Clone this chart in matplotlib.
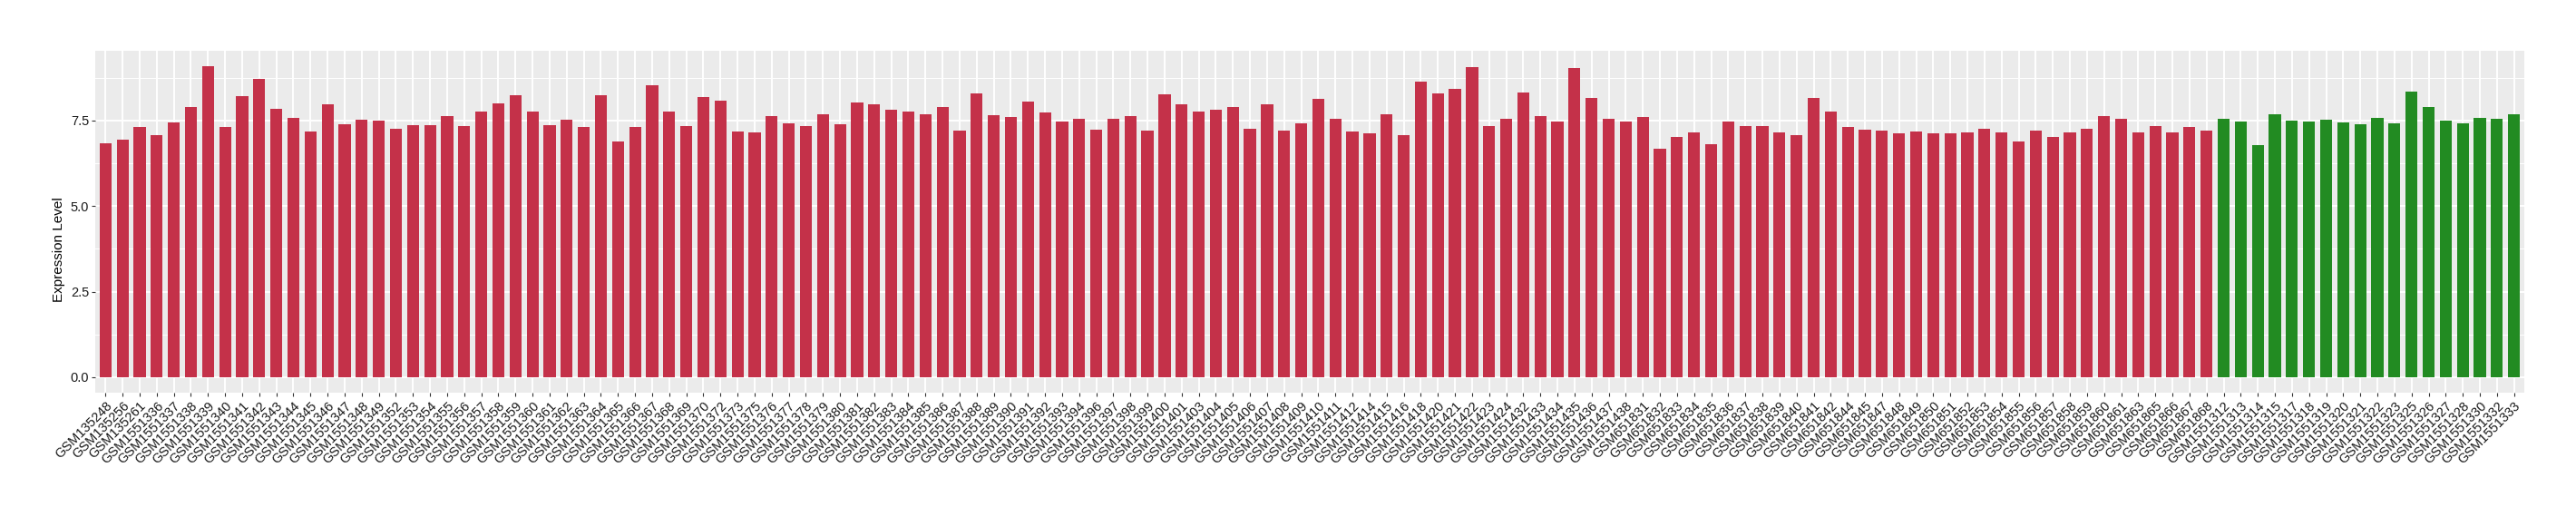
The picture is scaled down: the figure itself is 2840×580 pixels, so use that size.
import matplotlib
matplotlib.use("Agg")
import matplotlib.pyplot as plt
import numpy as np

plt.rcParams['font.family'] = ['Liberation Sans', 'DejaVu Sans']

red_samples = [
    "GSM135248", "GSM135256", "GSM135261", "GSM1551336", "GSM1551337", "GSM1551338",
    "GSM1551339", "GSM1551340", "GSM1551341", "GSM1551342", "GSM1551343", "GSM1551344",
    "GSM1551345", "GSM1551346", "GSM1551347", "GSM1551348", "GSM1551349", "GSM1551352",
    "GSM1551353", "GSM1551354", "GSM1551355", "GSM1551356", "GSM1551357", "GSM1551358",
    "GSM1551359", "GSM1551360", "GSM1551361", "GSM1551362", "GSM1551363", "GSM1551364",
    "GSM1551365", "GSM1551366", "GSM1551367", "GSM1551368", "GSM1551369", "GSM1551370",
    "GSM1551372", "GSM1551373", "GSM1551375", "GSM1551376", "GSM1551377", "GSM1551378",
    "GSM1551379", "GSM1551380", "GSM1551381", "GSM1551382", "GSM1551383", "GSM1551384",
    "GSM1551385", "GSM1551386", "GSM1551387", "GSM1551388", "GSM1551389", "GSM1551390",
    "GSM1551391", "GSM1551392", "GSM1551393", "GSM1551394", "GSM1551396", "GSM1551397",
    "GSM1551398", "GSM1551399", "GSM1551400", "GSM1551401", "GSM1551403", "GSM1551404",
    "GSM1551405", "GSM1551406", "GSM1551407", "GSM1551408", "GSM1551409", "GSM1551410",
    "GSM1551411", "GSM1551412", "GSM1551414", "GSM1551415", "GSM1551416", "GSM1551418",
    "GSM1551420", "GSM1551421", "GSM1551422", "GSM1551423", "GSM1551424", "GSM1551432",
    "GSM1551433", "GSM1551434", "GSM1551435", "GSM1551436", "GSM1551437", "GSM1551438",
    "GSM651831", "GSM651832", "GSM651833", "GSM651834", "GSM651835", "GSM651836",
    "GSM651837", "GSM651838", "GSM651839", "GSM651840", "GSM651841", "GSM651842",
    "GSM651844", "GSM651845", "GSM651847", "GSM651848", "GSM651849", "GSM651850",
    "GSM651851", "GSM651852", "GSM651853", "GSM651854", "GSM651855", "GSM651856",
    "GSM651857", "GSM651858", "GSM651859", "GSM651860", "GSM651861", "GSM651863",
    "GSM651865", "GSM651866", "GSM651867", "GSM651868",
]
red_values = [
    6.83, 6.93, 7.32, 7.06, 7.44, 7.90,
    9.08, 7.32, 8.21, 8.72, 7.83, 7.57,
    7.18, 7.98, 7.39, 7.52, 7.49, 7.26,
    7.37, 7.37, 7.62, 7.34, 7.75, 8.00,
    8.23, 7.75, 7.37, 7.52, 7.32, 8.23,
    6.88, 7.32, 8.54, 7.75, 7.34, 8.19,
    8.08, 7.18, 7.14, 7.62, 7.42, 7.34,
    7.69, 7.39, 8.03, 7.96, 7.80, 7.77,
    7.68, 7.88, 7.21, 8.28, 7.65, 7.60,
    8.05, 7.72, 7.46, 7.54, 7.24, 7.54,
    7.62, 7.21, 8.26, 7.96, 7.77, 7.80,
    7.88, 7.26, 7.98, 7.21, 7.42, 8.13,
    7.54, 7.18, 7.11, 7.68, 7.06, 8.62,
    8.28, 8.42, 9.05, 7.34, 7.54, 8.31,
    7.62, 7.46, 9.02, 8.16, 7.54, 7.46,
    7.60, 6.67, 7.01, 7.16, 6.80, 7.46,
    7.34, 7.34, 7.14, 7.06, 8.16, 7.75,
    7.32, 7.24, 7.21, 7.11, 7.18, 7.11,
    7.11, 7.16, 7.26, 7.16, 6.88, 7.21,
    7.01, 7.14, 7.26, 7.62, 7.54, 7.16,
    7.34, 7.14, 7.32, 7.21,
]
green_samples = [
    "GSM1551312", "GSM1551313", "GSM1551314", "GSM1551315", "GSM1551317", "GSM1551318",
    "GSM1551319", "GSM1551320", "GSM1551321", "GSM1551322", "GSM1551323", "GSM1551325",
    "GSM1551326", "GSM1551327", "GSM1551328", "GSM1551330", "GSM1551332", "GSM1551333",
]
green_values = [
    7.54, 7.46, 6.78, 7.69, 7.49, 7.46,
    7.52, 7.44, 7.39, 7.57, 7.42, 8.34,
    7.90, 7.49, 7.42, 7.57, 7.54, 7.68,
]
y_ticks = [0.0, 2.5, 5.0, 7.5]
y_label = "Expression Level"
red_color = "#C43149"
green_color = "#228B22"

labels = red_samples + green_samples
values = red_values + green_values
colors = [red_color] * len(red_samples) + [green_color] * len(green_samples)
n = len(labels)
x = np.arange(n)

W, H = 2840, 580
fig = plt.figure(figsize=(W / 100, H / 100), dpi=100)
left, right, top, bottom = 105, 2783, 56, 433
ax = fig.add_axes([left / W, 1 - bottom / H, (right - left) / W, (bottom - top) / H])

ax.set_facecolor("#EBEBEB")
for s in ax.spines.values():
    s.set_visible(False)

vmax = max(values)
ax.set_ylim(-0.05 * vmax, 1.05 * vmax)
ax.set_xlim(-0.6, n - 0.4)

ax.set_yticks(y_ticks)
ax.set_yticklabels([f"{t:.1f}" for t in y_ticks])
ax.set_yticks([1.25, 3.75, 6.25, 8.75], minor=True)
ax.set_xticks(x)
ax.set_xticklabels(labels, rotation=45, ha="right", va="top", rotation_mode="anchor")

ax.grid(which="major", color="white", linewidth=1.4)
ax.grid(which="minor", axis="y", color="white", linewidth=0.7)
ax.set_axisbelow(True)

ax.tick_params(axis="both", which="major", length=3, width=0.8, color="#333333",
               labelcolor="#1A1A1A", labelsize=10.5, pad=2)
ax.tick_params(axis="y", which="minor", length=0)

ax.bar(x, values, width=0.7, color=colors, zorder=2)

ax.set_ylabel(y_label, fontsize=11, color="black")
ax.yaxis.set_label_coords(-0.0125, 0.42)

fig.savefig("out.png", dpi=100)
